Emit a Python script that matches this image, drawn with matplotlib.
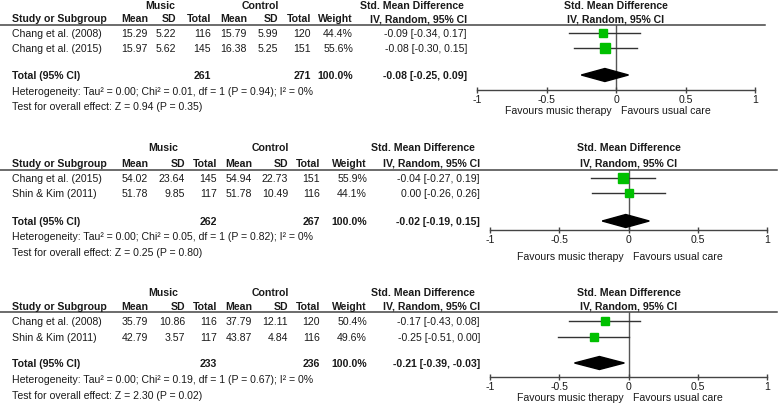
import matplotlib
matplotlib.use('Agg')
import matplotlib.pyplot as plt
from matplotlib.transforms import blended_transform_factory

plt.rcParams['font.family'] = ['Liberation Sans', 'DejaVu Sans']

# ---- data, one entry per panel ----
studies = [['Chang et al. (2008)', 'Chang et al. (2015)'],
           ['Chang et al. (2015)', 'Shin & Kim (2011)'],
           ['Chang et al. (2008)', 'Shin & Kim (2011)']]
music_mean = [[15.29, 15.97], [54.02, 51.78], [35.79, 42.79]]
music_sd = [[5.22, 5.62], [23.64, 9.85], [10.86, 3.57]]
music_n = [[116, 145], [145, 117], [116, 117]]
ctrl_mean = [[15.79, 16.38], [54.94, 51.78], [37.79, 43.87]]
ctrl_sd = [[5.99, 5.25], [22.73, 10.49], [12.11, 4.84]]
ctrl_n = [[120, 151], [151, 116], [120, 116]]
weight = [[44.4, 55.6], [55.9, 44.1], [50.4, 49.6]]
smd = [[-0.09, -0.08], [-0.04, 0.00], [-0.17, -0.25]]
ci_lo = [[-0.34, -0.30], [-0.27, -0.26], [-0.43, -0.51]]
ci_hi = [[0.17, 0.15], [0.19, 0.26], [0.08, 0.00]]

pooled = [-0.08, -0.02, -0.21]
pooled_lo = [-0.25, -0.19, -0.39]
pooled_hi = [0.09, 0.15, -0.03]

tau2 = [0.00, 0.00, 0.00]
chi2 = [0.01, 0.05, 0.19]
df = [1, 1, 1]
p_het = [0.94, 0.82, 0.67]
i2 = [0, 0, 0]
z_val = [0.94, 0.25, 2.30]
p_z = [0.35, 0.80, 0.02]

ticks = [-1, -0.5, 0, 0.5, 1]
tick_labels = ['-1', '-0.5', '0', '0.5', '1']
fav_left = 'Favours music therapy'
fav_right = 'Favours usual care'

# ---- layout (pixels) ----
cols_a = [148, 176, 211, 247, 278, 311, 353, 467]
cols_b = [148, 185, 217, 252, 288, 320, 367, 480]
layout = [
    dict(grp=6, head=19, line=26, rows=[34, 49], total=76, het=92, test=107,
         axis=91, fav=111, line_end=765, cols=cols_a, music_c=160, ctrl_c=260,
         smd_r=464, fx=(477, 755)),
    dict(grp=148, head=164, line=171, rows=[179, 194], total=222, het=237, test=253,
         axis=231, fav=257, line_end=777, cols=cols_b, music_c=163, ctrl_c=270,
         smd_r=475, fx=(490, 767)),
    dict(grp=293, head=307, line=313, rows=[322, 338], total=364, het=380, test=396,
         axis=378, fav=398, line_end=777, cols=cols_b, music_c=163, ctrl_c=270,
         smd_r=475, fx=(490, 767)),
]

W, H = 778, 406
fs = 7.6
tc = '#1a1a1a'
green = '#00c000'

fig = plt.figure(figsize=(W / 100, H / 100), dpi=100)
tx = fig.add_axes([0, 0, 1, 1])
tx.set_xlim(0, W)
tx.set_ylim(H, 0)
tx.axis('off')

def put(x, y, s, ha='right', bold=False):
    tx.text(x, y, s, ha=ha, va='center', fontsize=fs, color=tc,
            fontweight='bold' if bold else 'normal')

for p, L in enumerate(layout):
    c = L['cols']

    # table headers
    put(L['music_c'], L['grp'], 'Music', ha='center', bold=True)
    put(L['ctrl_c'], L['grp'], 'Control', ha='center', bold=True)
    put(L['smd_r'], L['grp'], 'Std. Mean Difference', bold=True)
    put(12, L['head'], 'Study or Subgroup', ha='left', bold=True)
    for x, s in zip(c, ['Mean', 'SD', 'Total', 'Mean', 'SD', 'Total', 'Weight',
                        'IV, Random, 95% CI']):
        put(x, L['head'], s, bold=True)
    tx.plot([0, L['line_end']], [L['line'], L['line']], color='#444', lw=1.1)

    # study rows
    for i, y in enumerate(L['rows']):
        put(12, y, studies[p][i], ha='left')
        vals = ['%.2f' % music_mean[p][i], '%.2f' % music_sd[p][i], '%d' % music_n[p][i],
                '%.2f' % ctrl_mean[p][i], '%.2f' % ctrl_sd[p][i], '%d' % ctrl_n[p][i],
                '%.1f%%' % weight[p][i],
                '%.2f [%.2f, %.2f]' % (smd[p][i], ci_lo[p][i], ci_hi[p][i])]
        for x, s in zip(c, vals):
            put(x, y, s)

    # total row
    yt = L['total']
    put(12, yt, 'Total (95% CI)', ha='left', bold=True)
    put(c[2], yt, '%d' % sum(music_n[p]), bold=True)
    put(c[5], yt, '%d' % sum(ctrl_n[p]), bold=True)
    put(c[6], yt, '100.0%', bold=True)
    put(c[7], yt, '%.2f [%.2f, %.2f]' % (pooled[p], pooled_lo[p], pooled_hi[p]), bold=True)
    put(12, L['het'], 'Heterogeneity: Tau\u00b2 = %.2f; Chi\u00b2 = %.2f, df = %d (P = %.2f); I\u00b2 = %d%%'
        % (tau2[p], chi2[p], df[p], p_het[p], i2[p]), ha='left')
    put(12, L['test'], 'Test for overall effect: Z = %.2f (P = %.2f)' % (z_val[p], p_z[p]), ha='left')

    # forest plot axes
    x0, x1 = L['fx']
    ax = fig.add_axes([x0 / W, 1 - L['axis'] / H, (x1 - x0) / W, (L['axis'] - L['line']) / H])
    ax.set_facecolor('none')
    ax.set_xlim(-1, 1)
    ax.set_ylim(L['axis'], L['line'])
    for s in ['top', 'left', 'right']:
        ax.spines[s].set_visible(False)
    ax.spines['bottom'].set_color('#444')
    ax.spines['bottom'].set_linewidth(1)
    ax.set_yticks([])
    ax.set_xticks(ticks)
    ax.set_xticklabels(tick_labels)
    ax.tick_params(axis='x', direction='inout', length=5, width=1, color='#444',
                   labelsize=fs, labelcolor=tc, pad=0.5)
    ax.axvline(0, color='#555', lw=1, zorder=1)

    for i, y in enumerate(L['rows']):
        ax.plot([ci_lo[p][i], ci_hi[p][i]], [y, y], color='#333', lw=1, zorder=2)
        ax.plot(smd[p][i], y, 's', ms=1.25 * weight[p][i] ** 0.5 * 0.72,
                color=green, mec=green, zorder=3)
    ax.fill([pooled_lo[p], pooled[p], pooled_hi[p], pooled[p]],
            [yt, yt - 6.5, yt, yt + 6.5], color='black', zorder=3)

    tr = blended_transform_factory(ax.transData, tx.transData)
    tx.text(0, L['grp'], 'Std. Mean Difference', transform=tr, ha='center', va='center',
            fontsize=fs, color=tc, fontweight='bold')
    tx.text(0, L['head'], 'IV, Random, 95% CI', transform=tr, ha='center', va='center',
            fontsize=fs, color=tc, fontweight='bold')
    tx.text(-0.035, L['fav'], fav_left, transform=tr, ha='right', va='center',
            fontsize=fs, color=tc)
    tx.text(0.035, L['fav'], fav_right, transform=tr, ha='left', va='center',
            fontsize=fs, color=tc)

fig.savefig('out.png', dpi=100)
